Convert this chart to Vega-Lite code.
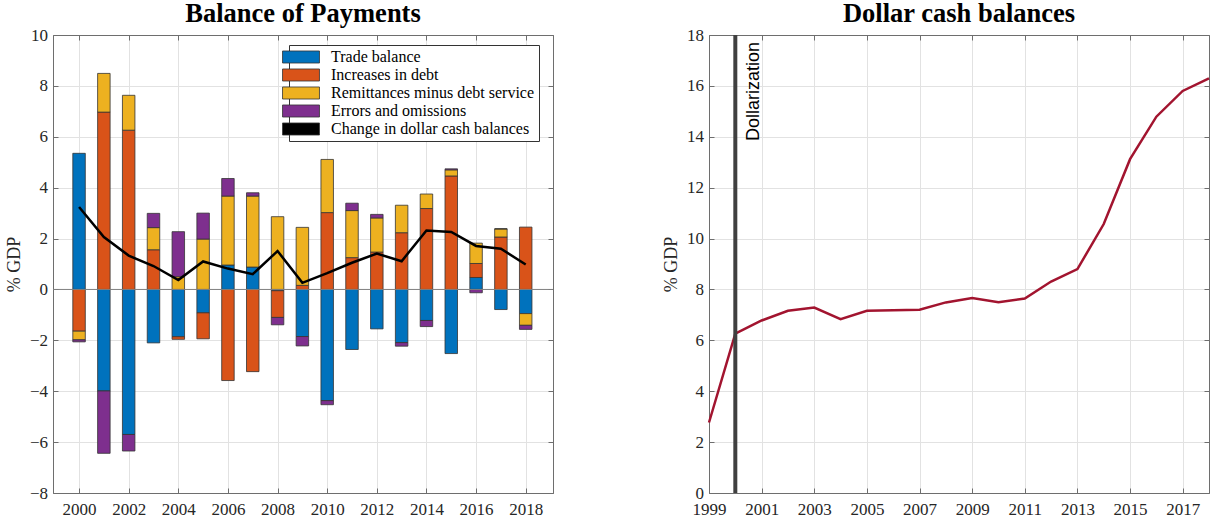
{
  "$schema": "https://vega.github.io/schema/vega-lite/v6.json",
  "background": "white",
  "padding": {"left": 4, "top": 0, "right": 0, "bottom": 0},
  "spacing": 156,
  "bounds": "flush",
  "datasets": {
    "bop": [
      {"year": 2000, "series": "Trade balance", "k": 1, "value": 5.35},
      {"year": 2000, "series": "Increases in debt", "k": 2, "value": -1.64},
      {"year": 2000, "series": "Remittances minus debt service", "k": 3, "value": -0.34},
      {"year": 2000, "series": "Errors and omissions", "k": 4, "value": -0.08},
      {"year": 2001, "series": "Trade balance", "k": 1, "value": -3.99},
      {"year": 2001, "series": "Increases in debt", "k": 2, "value": 6.97},
      {"year": 2001, "series": "Remittances minus debt service", "k": 3, "value": 1.52},
      {"year": 2001, "series": "Errors and omissions", "k": 4, "value": -2.45},
      {"year": 2002, "series": "Trade balance", "k": 1, "value": -5.70},
      {"year": 2002, "series": "Increases in debt", "k": 2, "value": 6.26},
      {"year": 2002, "series": "Remittances minus debt service", "k": 3, "value": 1.37},
      {"year": 2002, "series": "Errors and omissions", "k": 4, "value": -0.65},
      {"year": 2003, "series": "Trade balance", "k": 1, "value": -2.10},
      {"year": 2003, "series": "Increases in debt", "k": 2, "value": 1.56},
      {"year": 2003, "series": "Remittances minus debt service", "k": 3, "value": 0.87},
      {"year": 2003, "series": "Errors and omissions", "k": 4, "value": 0.56},
      {"year": 2004, "series": "Trade balance", "k": 1, "value": -1.86},
      {"year": 2004, "series": "Increases in debt", "k": 2, "value": -0.10},
      {"year": 2004, "series": "Remittances minus debt service", "k": 3, "value": 0.50},
      {"year": 2004, "series": "Errors and omissions", "k": 4, "value": 1.77},
      {"year": 2005, "series": "Trade balance", "k": 1, "value": -0.92},
      {"year": 2005, "series": "Increases in debt", "k": 2, "value": -1.02},
      {"year": 2005, "series": "Remittances minus debt service", "k": 3, "value": 1.98},
      {"year": 2005, "series": "Errors and omissions", "k": 4, "value": 1.02},
      {"year": 2006, "series": "Trade balance", "k": 1, "value": 0.96},
      {"year": 2006, "series": "Increases in debt", "k": 2, "value": -3.58},
      {"year": 2006, "series": "Remittances minus debt service", "k": 3, "value": 2.71},
      {"year": 2006, "series": "Errors and omissions", "k": 4, "value": 0.69},
      {"year": 2007, "series": "Trade balance", "k": 1, "value": 0.88},
      {"year": 2007, "series": "Increases in debt", "k": 2, "value": -3.23},
      {"year": 2007, "series": "Remittances minus debt service", "k": 3, "value": 2.79},
      {"year": 2007, "series": "Errors and omissions", "k": 4, "value": 0.13},
      {"year": 2008, "series": "Trade balance", "k": 1, "value": -0.05},
      {"year": 2008, "series": "Increases in debt", "k": 2, "value": -1.05},
      {"year": 2008, "series": "Remittances minus debt service", "k": 3, "value": 2.86},
      {"year": 2008, "series": "Errors and omissions", "k": 4, "value": -0.29},
      {"year": 2009, "series": "Trade balance", "k": 1, "value": -1.85},
      {"year": 2009, "series": "Increases in debt", "k": 2, "value": 0.16},
      {"year": 2009, "series": "Remittances minus debt service", "k": 3, "value": 2.28},
      {"year": 2009, "series": "Errors and omissions", "k": 4, "value": -0.37},
      {"year": 2010, "series": "Trade balance", "k": 1, "value": -4.37},
      {"year": 2010, "series": "Increases in debt", "k": 2, "value": 3.02},
      {"year": 2010, "series": "Remittances minus debt service", "k": 3, "value": 2.09},
      {"year": 2010, "series": "Errors and omissions", "k": 4, "value": -0.16},
      {"year": 2011, "series": "Trade balance", "k": 1, "value": -2.36},
      {"year": 2011, "series": "Increases in debt", "k": 2, "value": 1.25},
      {"year": 2011, "series": "Remittances minus debt service", "k": 3, "value": 1.85},
      {"year": 2011, "series": "Errors and omissions", "k": 4, "value": 0.29},
      {"year": 2012, "series": "Trade balance", "k": 1, "value": -1.55},
      {"year": 2012, "series": "Increases in debt", "k": 2, "value": 1.47},
      {"year": 2012, "series": "Remittances minus debt service", "k": 3, "value": 1.34},
      {"year": 2012, "series": "Errors and omissions", "k": 4, "value": 0.14},
      {"year": 2013, "series": "Trade balance", "k": 1, "value": -2.09},
      {"year": 2013, "series": "Increases in debt", "k": 2, "value": 2.23},
      {"year": 2013, "series": "Remittances minus debt service", "k": 3, "value": 1.08},
      {"year": 2013, "series": "Errors and omissions", "k": 4, "value": -0.14},
      {"year": 2014, "series": "Trade balance", "k": 1, "value": -1.22},
      {"year": 2014, "series": "Increases in debt", "k": 2, "value": 3.18},
      {"year": 2014, "series": "Remittances minus debt service", "k": 3, "value": 0.57},
      {"year": 2014, "series": "Errors and omissions", "k": 4, "value": -0.24},
      {"year": 2015, "series": "Trade balance", "k": 1, "value": -2.52},
      {"year": 2015, "series": "Increases in debt", "k": 2, "value": 4.46},
      {"year": 2015, "series": "Remittances minus debt service", "k": 3, "value": 0.24},
      {"year": 2015, "series": "Errors and omissions", "k": 4, "value": 0.04},
      {"year": 2016, "series": "Trade balance", "k": 1, "value": 0.47},
      {"year": 2016, "series": "Increases in debt", "k": 2, "value": 0.55},
      {"year": 2016, "series": "Remittances minus debt service", "k": 3, "value": 0.80},
      {"year": 2016, "series": "Errors and omissions", "k": 4, "value": -0.13},
      {"year": 2017, "series": "Trade balance", "k": 1, "value": -0.79},
      {"year": 2017, "series": "Increases in debt", "k": 2, "value": 2.06},
      {"year": 2017, "series": "Remittances minus debt service", "k": 3, "value": 0.32},
      {"year": 2017, "series": "Errors and omissions", "k": 4, "value": 0.0},
      {"year": 2018, "series": "Trade balance", "k": 1, "value": -0.95},
      {"year": 2018, "series": "Increases in debt", "k": 2, "value": 2.45},
      {"year": 2018, "series": "Remittances minus debt service", "k": 3, "value": -0.46},
      {"year": 2018, "series": "Errors and omissions", "k": 4, "value": -0.16}
    ],
    "change": [
      {"year": 2000, "change": 3.24}, {"year": 2001, "change": 2.06}, {"year": 2002, "change": 1.33},
      {"year": 2003, "change": 0.92}, {"year": 2004, "change": 0.37}, {"year": 2005, "change": 1.10},
      {"year": 2006, "change": 0.82}, {"year": 2007, "change": 0.60}, {"year": 2008, "change": 1.51},
      {"year": 2009, "change": 0.26}, {"year": 2010, "change": 0.64}, {"year": 2011, "change": 1.05},
      {"year": 2012, "change": 1.41}, {"year": 2013, "change": 1.11}, {"year": 2014, "change": 2.32},
      {"year": 2015, "change": 2.26}, {"year": 2016, "change": 1.71}, {"year": 2017, "change": 1.60},
      {"year": 2018, "change": 0.98}
    ],
    "cash": [
      {"year": 1999, "cash": 2.77}, {"year": 2000, "cash": 6.26}, {"year": 2001, "cash": 6.78},
      {"year": 2002, "cash": 7.16}, {"year": 2003, "cash": 7.29}, {"year": 2004, "cash": 6.83},
      {"year": 2005, "cash": 7.16}, {"year": 2006, "cash": 7.18}, {"year": 2007, "cash": 7.20},
      {"year": 2008, "cash": 7.49}, {"year": 2009, "cash": 7.66}, {"year": 2010, "cash": 7.50},
      {"year": 2011, "cash": 7.64}, {"year": 2012, "cash": 8.31}, {"year": 2013, "cash": 8.80},
      {"year": 2014, "cash": 10.57}, {"year": 2015, "cash": 13.12}, {"year": 2016, "cash": 14.79},
      {"year": 2017, "cash": 15.80}, {"year": 2018, "cash": 16.30}
    ],
    "events": [
      {"year": 2000, "label": "Dollarization"}
    ],
    "baseline": [
      {"level": 0}
    ]
  },
  "config": {
    "font": "Liberation Serif",
    "view": {"stroke": "#6e6e6e", "strokeWidth": 1},
    "axis": {
      "labelFont": "Liberation Serif",
      "labelFontSize": 17,
      "labelColor": "#262626",
      "titleFont": "Liberation Serif",
      "titleFontSize": 18,
      "titleFontWeight": "normal",
      "titleColor": "#262626",
      "domainColor": "#6e6e6e",
      "tickColor": "#6e6e6e",
      "gridColor": "#e2e2e2",
      "tickSize": -5,
      "labelFlush": false,
      "labelOverlap": false
    },
    "axisX": {"labelPadding": 13},
    "axisY": {"labelPadding": 10.5, "titlePadding": 6},
    "title": {
      "font": "Liberation Serif",
      "fontSize": 26.5,
      "fontWeight": "bold",
      "color": "#000000",
      "offset": -1
    }
  },
  "hconcat": [
    {
      "width": 500,
      "height": 458,
      "title": "Balance of Payments",
      "layer": [
        {
          "data": {"name": "bop"},
          "mark": {"type": "bar", "width": 12.5, "stroke": "#333333", "strokeWidth": 0.8},
          "encoding": {
            "x": {
              "field": "year", "type": "quantitative",
              "scale": {"domain": [1998.95, 2019.1], "nice": false, "zero": false, "padding": 0},
              "axis": {"values": [2000, 2002, 2004, 2006, 2008, 2010, 2012, 2014, 2016, 2018], "format": "d", "title": null, "grid": true}
            },
            "y": {
              "field": "value", "type": "quantitative", "stack": "zero",
              "scale": {"domain": [-8, 10], "nice": false, "padding": 0},
              "axis": {"values": [-8, -6, -4, -2, 0, 2, 4, 6, 8, 10], "title": "% GDP", "grid": true}
            },
            "color": {
              "field": "series", "type": "nominal",
              "scale": {
                "domain": ["Trade balance", "Increases in debt", "Remittances minus debt service", "Errors and omissions", "Change in dollar cash balances"],
                "range": ["#0072BD", "#D95319", "#EDB120", "#7E2F8E", "#000000"]
              },
              "legend": {
                "orient": "none",
                "direction": "vertical",
                "legendX": 236,
                "legendY": 10,
                "title": null,
                "fillColor": "white",
                "strokeColor": "#333333",
                "padding": 4,
                "labelFont": "Liberation Serif",
                "labelFontSize": 16,
                "labelColor": "#000000",
                "labelLimit": 400,
                "symbolSize": 196,
                "rowPadding": 2,
                "labelOffset": 22,
                "symbolType": "M-2.64,-0.86H2.64V0.86H-2.64Z",
                "symbolStrokeColor": "#333333",
                "symbolStrokeWidth": 0.8
              }
            },
            "order": {"field": "k", "type": "quantitative"}
          }
        },
        {
          "data": {"name": "baseline"},
          "mark": {"type": "rule", "color": "#808080", "strokeWidth": 1},
          "encoding": {
            "y": {"field": "level", "type": "quantitative", "scale": {"domain": [-8, 10], "nice": false, "padding": 0}, "axis": null}
          }
        },
        {
          "data": {"name": "change"},
          "mark": {"type": "line", "strokeWidth": 2.5, "color": "#000000"},
          "encoding": {
            "x": {"field": "year", "type": "quantitative", "scale": {"domain": [1998.95, 2019.1], "nice": false, "zero": false, "padding": 0}, "axis": null},
            "y": {"field": "change", "type": "quantitative", "scale": {"domain": [-8, 10], "nice": false, "padding": 0}, "axis": null}
          }
        },
        {
          "data": {"name": "change"},
          "mark": {"type": "point", "opacity": 0},
          "encoding": {
            "x": {
              "field": "year", "type": "quantitative",
              "scale": {"domain": [1998.95, 2019.1], "nice": false, "zero": false, "padding": 0},
              "axis": {"orient": "top", "labels": false, "grid": false, "title": null, "minExtent": 0, "maxExtent": 0, "labelPadding": 0, "values": [2000, 2002, 2004, 2006, 2008, 2010, 2012, 2014, 2016, 2018]}
            },
            "y": {
              "field": "change", "type": "quantitative",
              "scale": {"domain": [-8, 10], "nice": false, "padding": 0},
              "axis": {"orient": "right", "labels": false, "grid": false, "title": null, "minExtent": 0, "maxExtent": 0, "labelPadding": 0, "values": [-8, -6, -4, -2, 0, 2, 4, 6, 8, 10]}
            }
          }
        }
      ],
      "resolve": {"axis": {"x": "independent", "y": "independent"}}
    },
    {
      "width": 500,
      "height": 458,
      "title": "Dollar cash balances",
      "layer": [
        {
          "data": {"name": "cash"},
          "mark": {"type": "line", "color": "#A2142F", "strokeWidth": 2.5},
          "encoding": {
            "x": {
              "field": "year", "type": "quantitative",
              "scale": {"domain": [1999, 2018], "nice": false, "zero": false},
              "axis": {"values": [1999, 2001, 2003, 2005, 2007, 2009, 2011, 2013, 2015, 2017], "format": "d", "title": null, "grid": true}
            },
            "y": {
              "field": "cash", "type": "quantitative",
              "scale": {"domain": [0, 18], "nice": false},
              "axis": {"values": [0, 2, 4, 6, 8, 10, 12, 14, 16, 18], "title": "% GDP", "grid": true}
            }
          }
        },
        {
          "data": {"name": "events"},
          "mark": {"type": "rule", "color": "#404040", "strokeWidth": 4},
          "encoding": {
            "x": {"field": "year", "type": "quantitative", "scale": {"domain": [1999, 2018], "nice": false, "zero": false}, "axis": null}
          }
        },
        {
          "data": {"name": "events"},
          "mark": {"type": "text", "font": "Liberation Sans", "fontSize": 18, "angle": 270, "align": "right", "baseline": "alphabetic", "dx": -7, "dy": 24, "color": "#000000"},
          "encoding": {
            "x": {"field": "year", "type": "quantitative", "scale": {"domain": [1999, 2018], "nice": false, "zero": false}, "axis": null},
            "y": {"datum": 18, "type": "quantitative", "scale": {"domain": [0, 18], "nice": false}, "axis": null},
            "text": {"field": "label"}
          }
        },
        {
          "data": {"name": "cash"},
          "mark": {"type": "point", "opacity": 0},
          "encoding": {
            "x": {
              "field": "year", "type": "quantitative",
              "scale": {"domain": [1999, 2018], "nice": false, "zero": false},
              "axis": {"orient": "top", "labels": false, "grid": false, "title": null, "minExtent": 0, "maxExtent": 0, "labelPadding": 0, "values": [1999, 2001, 2003, 2005, 2007, 2009, 2011, 2013, 2015, 2017]}
            },
            "y": {
              "field": "cash", "type": "quantitative",
              "scale": {"domain": [0, 18], "nice": false},
              "axis": {"orient": "right", "labels": false, "grid": false, "title": null, "minExtent": 0, "maxExtent": 0, "labelPadding": 0, "values": [0, 2, 4, 6, 8, 10, 12, 14, 16, 18]}
            }
          }
        }
      ],
      "resolve": {"axis": {"x": "independent", "y": "independent"}}
    }
  ]
}
